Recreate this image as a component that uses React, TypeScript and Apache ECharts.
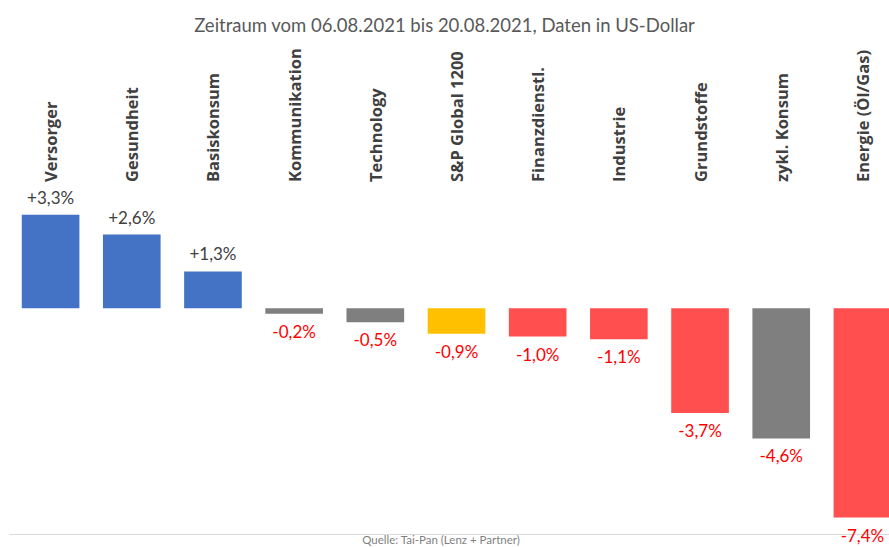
import React, { useEffect, useRef } from "react";
import * as echarts from "echarts";

const categories = [
  "Versorger",
  "Gesundheit",
  "Basiskonsum",
  "Kommunikation",
  "Technology",
  "S&P Global 1200",
  "Finanzdienstl.",
  "Industrie",
  "Grundstoffe",
  "zykl. Konsum",
  "Energie (Öl/Gas)",
];
const values = [3.3, 2.6, 1.3, -0.2, -0.5, -0.9, -1.0, -1.1, -3.7, -4.6, -7.4];
const barColors = [
  "#4472C4",
  "#4472C4",
  "#4472C4",
  "#7F7F7F",
  "#7F7F7F",
  "#FFC000",
  "#FF4F4F",
  "#FF4F4F",
  "#FF4F4F",
  "#7F7F7F",
  "#FF4F4F",
];
const titleText = "Zeitraum vom 06.08.2021 bis 20.08.2021, Daten in US-Dollar";
const sourceText = "Quelle: Tai-Pan (Lenz + Partner)";

const FONT = "Lato, 'Open Sans', sans-serif";
const LABEL_FONT = "'Open Sans', 'Noto Sans', sans-serif";

export default function App() {
  const ref = useRef<HTMLDivElement>(null);
  useEffect(() => {
    if (!ref.current) return;
    const chart = echarts.init(ref.current, undefined, { renderer: "svg" });
    const fmt = (v: number) =>
      (v > 0 ? "+" : "-") + Math.abs(v).toFixed(1).replace(".", ",") + "%";
    chart.setOption({
      animation: false,
      backgroundColor: "#ffffff",
      textStyle: { fontFamily: FONT },
      title: [
        {
          text: titleText,
          left: "center",
          top: 10,
          textStyle: { fontFamily: FONT, fontSize: 18.5, fontWeight: "normal", color: "#595959" },
        },
        {
          text: sourceText,
          left: 441,
          textAlign: "center",
          top: 533,
          padding: 0,
          textStyle: { fontFamily: FONT, fontSize: 11.5, fontWeight: "normal", color: "#7F7F7F" },
        },
      ],
      grid: {
        left: 10,
        width: 893,
        top: 195,
        height: 339.6,
        containLabel: false,
        outerBoundsMode: "none",
      },
      xAxis: [
        {
          type: "category",
          data: categories,
          position: "top",
          axisLine: { show: false },
          axisTick: { show: false },
          axisLabel: {
            rotate: 90,
            margin: 13,
            interval: 0,
            fontFamily: LABEL_FONT,
            fontSize: 16.5,
            fontWeight: "bold",
            color: "#404040",
          },
        },
        {
          type: "category",
          data: categories,
          position: "bottom",
          axisLine: { show: true, onZero: true, lineStyle: { color: "#D9D9D9", width: 1 } },
          axisTick: { show: false },
          axisLabel: { show: false },
        },
      ],
      yAxis: {
        type: "value",
        min: -8,
        max: 4,
        show: false,
        splitLine: { show: false },
      },
      series: [
        {
          type: "bar",
          xAxisIndex: 0,
          barCategoryGap: "29%",
          data: values.map((v, i) => ({
            value: v,
            itemStyle: { color: barColors[i] },
            label: {
              show: true,
              position: v > 0 ? "top" : "bottom",
              distance: 9,
              formatter: () => fmt(v),
              color: v > 0 ? "#404040" : "#FF0000",
              fontFamily: FONT,
              fontSize: 17,
            },
          })),
        },
      ],
    });
    return () => chart.dispose();
  }, []);
  return (
    <div
      ref={ref}
      style={{ position: "fixed", left: 0, top: 0, width: 889, height: 547 }}
    />
  );
}
